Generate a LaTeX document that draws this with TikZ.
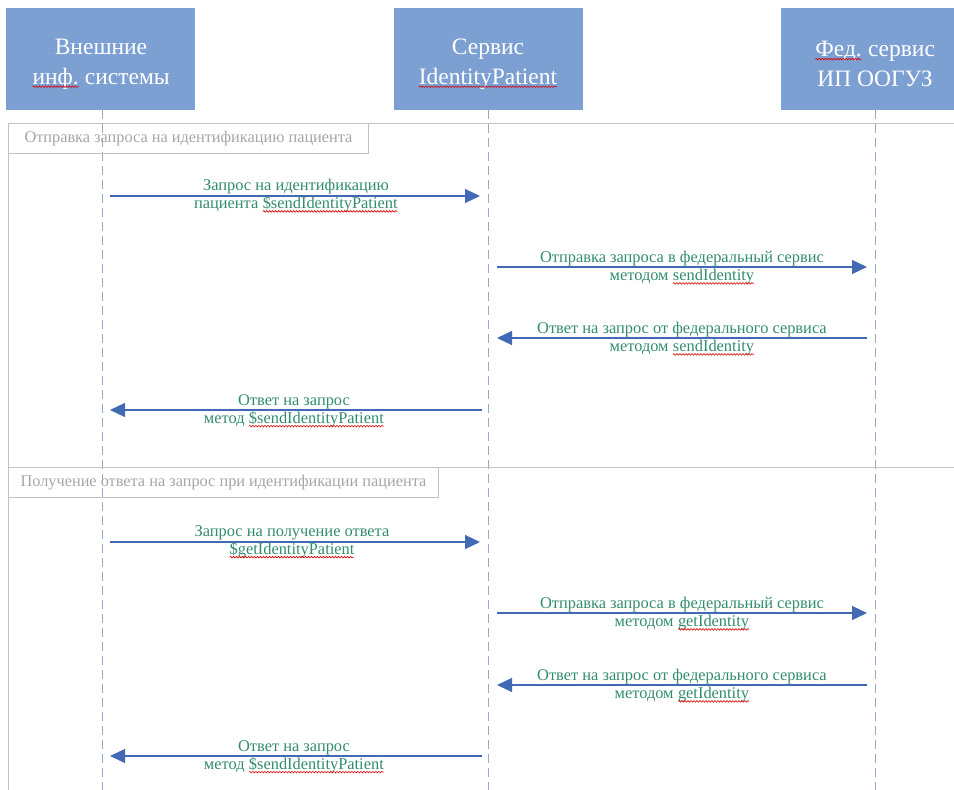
\documentclass[tikz,border=0pt]{standalone}
\usepackage{fontspec}
\setmainfont{Liberation Serif}
\newfontfamily\seqfont{Liberation Serif}
\usepackage{xcolor}
\usetikzlibrary{arrows.meta}
\usetikzlibrary{calc}
\usetikzlibrary{decorations.pathmorphing}

\definecolor{seqbox}{RGB}{125,160,210}
\definecolor{seqline}{RGB}{150,170,200}
\definecolor{seqarrow}{RGB}{65,105,180}
\definecolor{seqtext}{RGB}{50,140,110}
\definecolor{seqframe}{RGB}{195,195,195}
\definecolor{seqtab}{RGB}{165,165,165}

\newcommand{\spellmark}[1]{\tikz[baseline=(sw.base),x=1pt,y=1pt]{\node[inner sep=0pt,outer sep=0pt,minimum width=0pt,minimum height=0pt,fill=none,draw=none,anchor=base] (sw) {#1};
    \draw[red!85!black, line width=0.6pt, decorate, decoration={snake, amplitude=0.8pt, segment length=3pt}] ([yshift=-2.5pt]sw.base west) -- ([yshift=-2.5pt]sw.base east);}}

\begin{document}
\begin{tikzpicture}[x=1pt,y=-1pt,
    actor/.style={fill=seqbox, minimum width=189pt, minimum height=102pt},
    actortext/.style={text=white, align=center, inner sep=0pt, font=\seqfont\fontsize{23.5}{30}\selectfont},
    lifeline/.style={seqline, dash pattern=on 9pt off 5pt, line width=1pt},
    msg/.style={seqarrow, line width=1.1pt, -{Triangle[length=15pt,width=14pt]}},
    msglabel/.style={text=seqtext, align=center, inner sep=0pt, font=\seqfont\fontsize{16.4}{18}\selectfont},
    fragtab/.style={draw=seqframe, line width=1pt, text=seqtab, anchor=north west, minimum height=30pt, font=\seqfont\fontsize{16.3}{18}\selectfont},
    fragline/.style={seqframe, line width=1pt}]
        \newcommand{\seqlanea}{102}
        \newcommand{\seqlaneb}{488}
        \newcommand{\seqlanec}{875}
        \newcommand{\seqfragx}{8}
        \newcommand{\seqfragay}{123}
        \newcommand{\seqfragby}{467}
        \useasboundingbox (0,0) rectangle (954,790);
        \clip (0,0) rectangle (954,790);
        % participants
        \node[actor] (ext) at (100,59) {};
        \node[actor] (svc) at (\seqlaneb,59) {};
        \node[actor] (fed) at (\seqlanec,59) {};
        \node[actortext] (extt) at (101,64) {Внешние\\\spellmark{инф.} системы};
        \node[actortext] (svct) at (\seqlaneb,64) {Сервис\\\spellmark{IdentityPatient}};
        \node[actortext] (fedt) at (\seqlanec,64) {\spellmark{Фед.} сервис\\ИП ООГУЗ};
        \coordinate (exta) at (\seqlanea,800);
        \coordinate (svca) at (\seqlaneb,800);
        \coordinate (feda) at (\seqlanec,800);
        \draw[lifeline] (\seqlanea,110) -- (exta);
        \draw[lifeline] (svc.south) -- (svca);
        \draw[lifeline] (fed.south) -- (feda);
        % fragments
        \coordinate (fraga) at (\seqfragx,\seqfragay);
        \coordinate (fragb) at (\seqfragx,\seqfragby);
        \draw[fragline] (\seqfragx,800) -- (fraga) -- (960,\seqfragay);
        \draw[fragline] (fragb) -- (960,\seqfragby);
        \node[fragtab, minimum width=360pt] (taba) at (fraga) {Отправка запроса на идентификацию пациента};
        \node[fragtab, minimum width=430pt] (tabb) at (fragb) {Получение ответа на запрос при идентификации пациента};
        % first fragment
        \coordinate (ma1) at (110,196);   \coordinate (mb1) at (480,196);
        \coordinate (ma2) at (497,267);   \coordinate (mb2) at (867,267);
        \coordinate (ma3) at (867,338);   \coordinate (mb3) at (497,338);
        \coordinate (ma4) at (482,410);   \coordinate (mb4) at (110,410);
        \draw[msg] (ma1) -- (mb1);
        \draw[msg] (ma2) -- (mb2);
        \draw[msg] (ma3) -- (mb3);
        \draw[msg] (ma4) -- (mb4);
        \node[msglabel] (la1) at (296,196) {Запрос на идентификацию\\пациента \spellmark{\$sendIdentityPatient}};
        \node[msglabel] (la2) at (682,268) {Отправка запроса в федеральный сервис\\методом \spellmark{sendIdentity}};
        \node[msglabel] (la3) at (682,339) {Ответ на запрос от федерального сервиса\\методом \spellmark{sendIdentity}};
        \node[msglabel] (la4) at (294,411) {Ответ на запрос\\метод \spellmark{\$sendIdentityPatient}};
        % second fragment
        \coordinate (mc1) at (110,542);   \coordinate (md1) at (480,542);
        \coordinate (mc2) at (497,613);   \coordinate (md2) at (867,613);
        \coordinate (mc3) at (867,685);   \coordinate (md3) at (497,685);
        \coordinate (mc4) at (482,756);   \coordinate (md4) at (110,756);
        \draw[msg] (mc1) -- (md1);
        \draw[msg] (mc2) -- (md2);
        \draw[msg] (mc3) -- (md3);
        \draw[msg] (mc4) -- (md4);
        \node[msglabel] (lb1) at (292,542) {Запрос на получение ответа\\\spellmark{\$getIdentityPatient}};
        \node[msglabel] (lb2) at (682,614) {Отправка запроса в федеральный сервис\\методом \spellmark{getIdentity}};
        \node[msglabel] (lb3) at (682,686) {Ответ на запрос от федерального сервиса\\методом \spellmark{getIdentity}};
        \node[msglabel] (lb4) at (294,757) {Ответ на запрос\\метод \spellmark{\$sendIdentityPatient}};
    \end{tikzpicture}
\end{document}
